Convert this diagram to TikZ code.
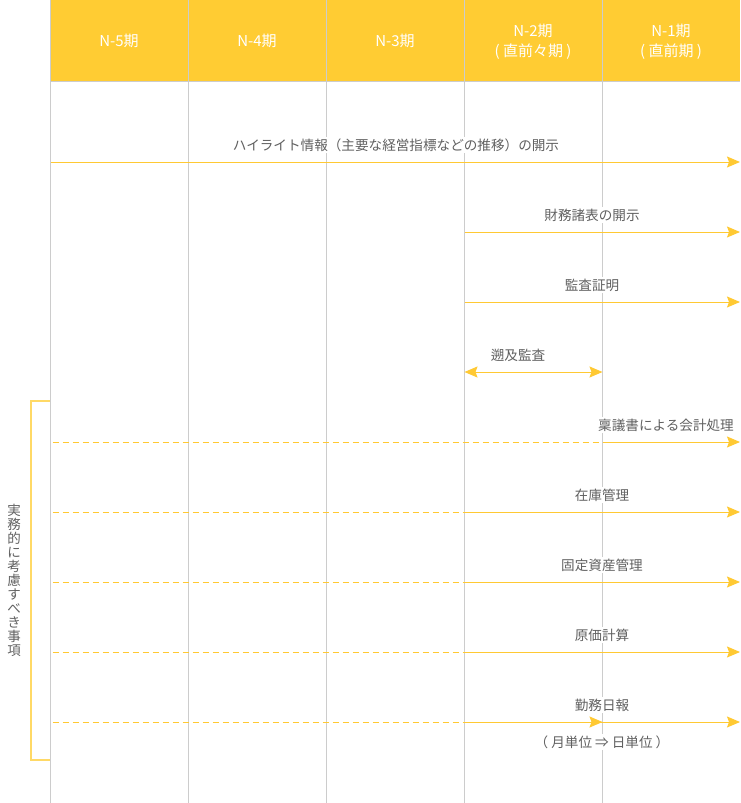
\documentclass[tikz,border=0pt]{standalone}
\usepackage{fontspec}
\setmainfont{Noto Sans CJK JP}
\usetikzlibrary{arrows.meta}
\definecolor{hdr}{HTML}{FFCC33}
\definecolor{arr}{HTML}{FFC933}
\definecolor{gridc}{HTML}{CCCCCC}
\definecolor{txt}{HTML}{606060}
\definecolor{brk}{HTML}{FFD966}
\begin{document}
\begin{tikzpicture}[x=1pt,y=-1pt,
  lbl/.style={fill=white,text=txt,font=\fontsize{13.6}{14}\selectfont,inner sep=1.5pt},
  hd/.style={text=white,font=\fontsize{15}{20.5}\selectfont,align=center,inner sep=0pt},
  vline/.style={draw=gridc,line width=1pt},
  flow/.style={draw=arr,line width=1pt,-{Stealth[length=13pt,width=11pt,inset=2pt]}},
  flowboth/.style={draw=arr,line width=1pt,{Stealth[length=13pt,width=11pt,inset=2pt]}-{Stealth[length=13pt,width=11pt,inset=2pt]}},
  dashflow/.style={draw=arr,line width=1pt,dash pattern=on 6pt off 4pt},
  bracket/.style={draw=brk,line width=1.5pt},
  vtext/.style={text=txt,font=\fontsize{13.5}{14}\selectfont,align=center,inner sep=0pt}]
\useasboundingbox (0,0) rectangle (740,803);
% header
\fill[hdr] (50,0) rectangle (740,81);
\draw[vline] (50,81.5) -- (740,81.5);
% column lines
\foreach \x/\n in {50.5/a,188.5/b,326.5/c,464.5/d,602.5/e}{
  \coordinate (\n top) at (\x,0);
  \coordinate (\n bot) at (\x,803);
  \draw[vline] (\n top) -- (\n bot);
}
% header labels
\node[hd] (h5) at (119,41) {N-5期};
\node[hd] (h4) at (257,41) {N-4期};
\node[hd] (h3) at (395,41) {N-3期};
\node[hd] (h2) at (533,42) {N-2期\\( 直前々期 )};
\node[hd] (h1) at (671,42) {N-1期\\( 直前期 )};
% row coordinates
\foreach \y/\r in {162/1,232/2,302/3,372/4,442/5,512/6,582/7,652/8,722/9}{
  \coordinate (s\r) at (51,\y);
  \coordinate (ds\r) at (52.5,\y);
  \coordinate (m\r) at (464.5,\y);
  \coordinate (n\r) at (602.5,\y);
  \coordinate (t\r) at (740,\y);
}
% labels
\node[lbl] (l1) at (396,145) {ハイライト情報（主要な経営指標などの推移）の開示};
\node[lbl] (l2) at (592,215) {財務諸表の開示};
\node[lbl] (l3) at (592,285) {監査証明};
\node[lbl] (l4) at (518,355) {遡及監査};
\node[lbl] (l5) at (666,425) {稟議書による会計処理};
\node[lbl] (l6) at (602,495) {在庫管理};
\node[lbl] (l7) at (602,565) {固定資産管理};
\node[lbl] (l8) at (602,635) {原価計算};
\node[lbl] (l9) at (602,705) {勤務日報};
\node[lbl] (l9b) at (602,742) {（ 月単位 ⇒ 日単位 ）};
% arrows
\draw[flow] (s1) -- (t1);
\draw[flow] (m2) -- (t2);
\draw[flow] (m3) -- (t3);
\draw[flowboth] (m4) -- (n4);
\draw[dashflow] (ds5) -- (n5);
\draw[flow] (n5) -- (t5);
\foreach \r in {6,7,8,9}{
  \draw[dashflow] (ds\r) -- (m\r);
  \draw[flow] (m\r) -- (t\r);
}
\draw[flow] (m9) -- (n9);
% bracket
\coordinate (bt) at (50,401);
\coordinate (bb) at (50,760);
\draw[bracket] (bt) -- (30.75,401) -- (30.75,760) -- (bb);
\node[vtext] (vt) at (14,580) {実\\務\\的\\に\\考\\慮\\す\\べ\\き\\事\\項};
\end{tikzpicture}
\end{document}
